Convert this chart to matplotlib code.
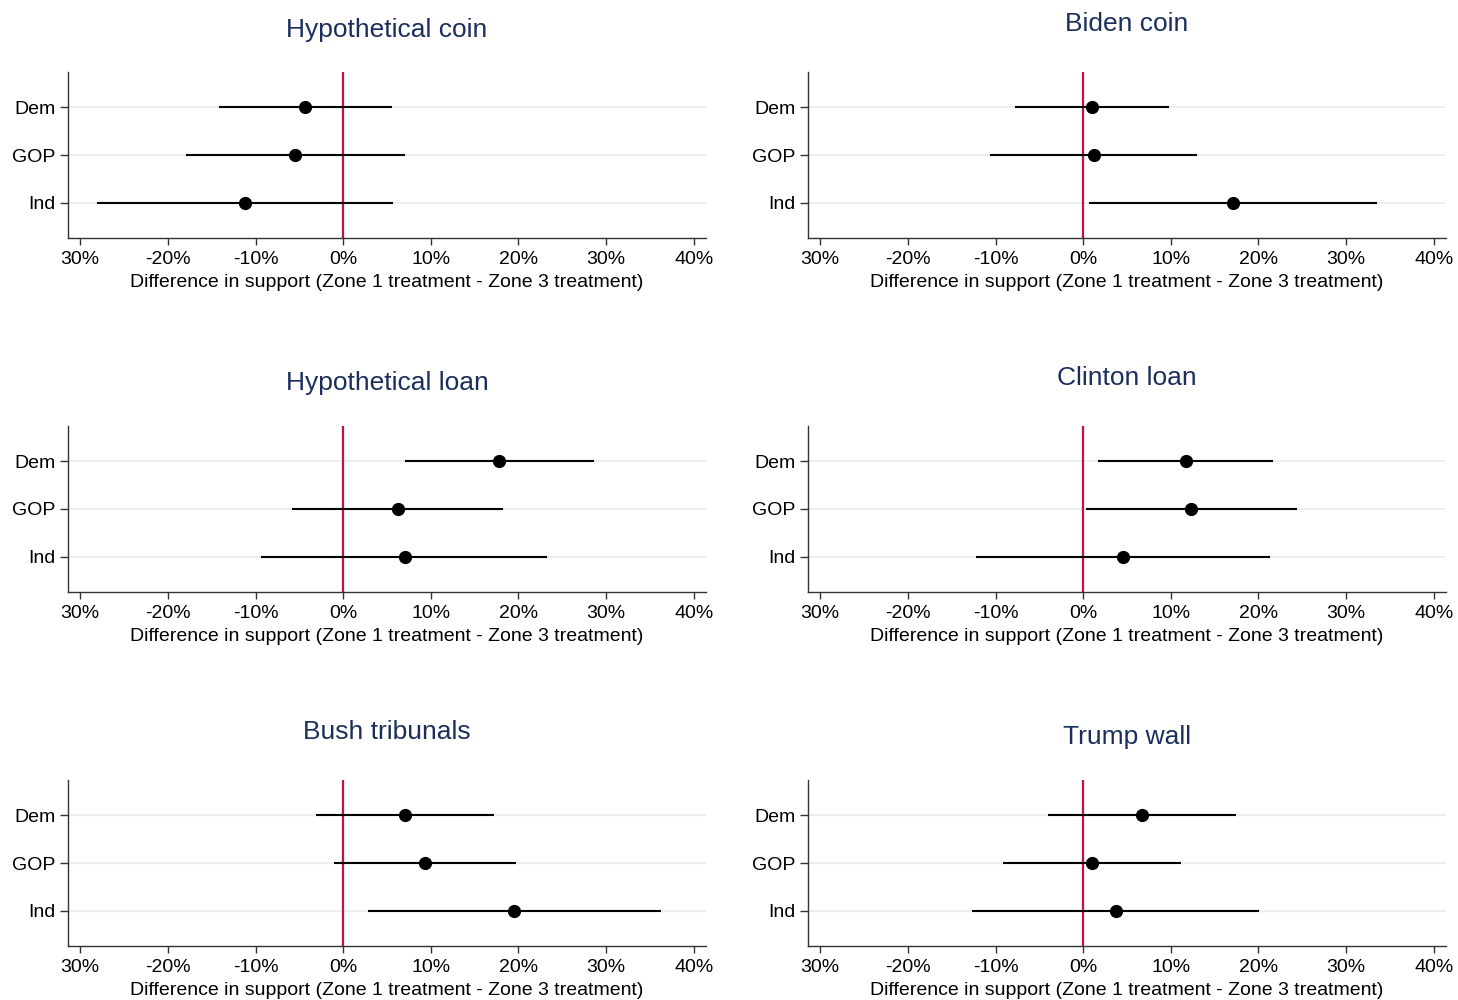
import matplotlib
matplotlib.use("Agg")
import matplotlib.pyplot as plt

plt.rcParams["font.family"] = ["Liberation Sans", "DejaVu Sans"]

# Partisan groups shown on each panel (top to bottom)
groups = ["Dem", "GOP", "Ind"]

# Panel titles, left-to-right, top-to-bottom
titles = ["Hypothetical coin", "Biden coin",
          "Hypothetical loan", "Clinton loan",
          "Bush tribunals", "Trump wall"]

# Point estimates (percentage points), order Dem, GOP, Ind
hyp_coin_est = [-4.3, -5.45, -11.2]
biden_coin_est = [0.95, 1.2, 17.1]
hyp_loan_est = [17.8, 6.2, 7.0]
clinton_loan_est = [11.7, 12.3, 4.6]
bush_trib_est = [7.0, 9.3, 19.5]
trump_wall_est = [6.7, 0.95, 3.7]

# Lower confidence bounds
hyp_coin_lo = [-14.2, -17.9, -28.1]
biden_coin_lo = [-7.8, -10.6, 0.65]
hyp_loan_lo = [7.0, -5.8, -9.4]
clinton_loan_lo = [1.7, 0.3, -12.2]
bush_trib_lo = [-3.1, -1.0, 2.8]
trump_wall_lo = [-4.0, -9.2, -12.7]

# Upper confidence bounds
hyp_coin_hi = [5.6, 7.0, 5.7]
biden_coin_hi = [9.8, 13.0, 33.5]
hyp_loan_hi = [28.6, 18.2, 23.3]
clinton_loan_hi = [21.7, 24.4, 21.3]
bush_trib_hi = [17.2, 19.7, 36.3]
trump_wall_hi = [17.4, 11.2, 20.1]

# X axis ticks and their labels
xticks = [-30, -20, -10, 0, 10, 20, 30, 40]
xtick_labels = ["30%", "-20%", "-10%", "0%", "10%", "20%", "30%", "40%"]
xlabel = "Difference in support (Zone 1 treatment - Zone 3 treatment)"

estimates = [hyp_coin_est, biden_coin_est, hyp_loan_est,
             clinton_loan_est, bush_trib_est, trump_wall_est]
lows = [hyp_coin_lo, biden_coin_lo, hyp_loan_lo,
        clinton_loan_lo, bush_trib_lo, trump_wall_lo]
highs = [hyp_coin_hi, biden_coin_hi, hyp_loan_hi,
         clinton_loan_hi, bush_trib_hi, trump_wall_hi]

W, H = 1458, 1000
fig = plt.figure(figsize=(W / 100, H / 100), dpi=100)

col_left_px = [68, 808]
row_top_px = [72, 426, 780]
ax_w_px, ax_h_px = 638, 166
# vertical position of each title centre, in pixels from the top of the figure
title_y_px = [30, 24, 383, 378, 732, 737]

title_color = "#1c2f5c"
ref_color = "#c8103c"
grid_color = "#e9eff2"
spine_color = "#333333"

for i in range(6):
    r, c = divmod(i, 2)
    left = col_left_px[c] / W
    bottom = 1 - (row_top_px[r] + ax_h_px) / H
    ax = fig.add_axes([left, bottom, ax_w_px / W, ax_h_px / H])

    ypos = list(range(1, len(groups) + 1))
    for y in ypos:
        ax.axhline(y, color=grid_color, lw=1.6, zorder=0)
    ax.axvline(0, color=ref_color, lw=1.6, zorder=1)

    ax.hlines(ypos, lows[i], highs[i], color="black", lw=1.5, zorder=2)
    ax.plot(estimates[i], ypos, "o", color="black", ms=8.5, zorder=3)

    ax.set_xlim(-31.4, 41.4)
    ax.set_ylim(3.74, 0.26)
    ax.set_yticks(ypos)
    ax.set_yticklabels(groups)
    ax.set_xticks(xticks)
    ax.set_xticklabels(xtick_labels)

    for s in ("top", "right"):
        ax.spines[s].set_visible(False)
    for s in ("left", "bottom"):
        ax.spines[s].set_color(spine_color)
        ax.spines[s].set_linewidth(1.0)

    ax.tick_params(axis="y", length=6, width=1.0, color=spine_color, pad=3,
                   labelsize=14)
    ax.tick_params(axis="x", length=5, width=1.0, color=spine_color, pad=4,
                   labelsize=14)
    ax.set_xlabel(xlabel, fontsize=14, labelpad=5)

    cx = (col_left_px[c] + ax_w_px / 2) / W
    fig.text(cx, 1 - title_y_px[i] / H, titles[i], ha="center", va="center",
             fontsize=19, color=title_color)

fig.savefig("out.png", dpi=100, facecolor="white")
